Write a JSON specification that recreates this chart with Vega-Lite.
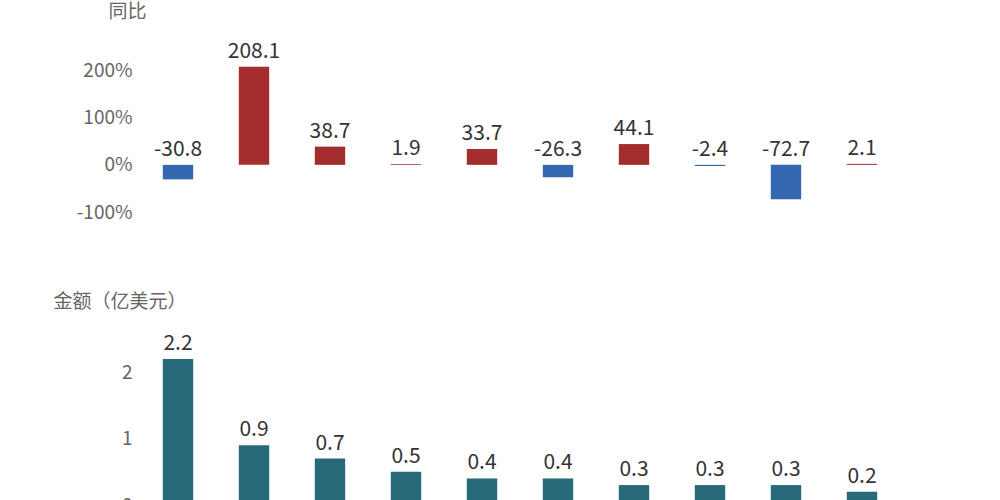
{
  "$schema": "https://vega.github.io/schema/vega-lite/v6.json",
  "padding": {"left": 53, "top": 2, "right": 5, "bottom": 0},
  "config": {
    "view": {"stroke": null},
    "font": "Noto Sans CJK SC",
    "axis": {"labelFontSize": 19, "labelColor": "#666", "titleFontSize": 19, "titleColor": "#666", "titleFontWeight": "normal", "grid": false, "labelOverlap": false}
  },
  "data": {"values": [
    {"region": "中国香港", "amt": 2.2, "yoy": -30.8},
    {"region": "越南", "amt": 0.9, "yoy": 208.1},
    {"region": "新加坡", "amt": 0.7, "yoy": 38.7},
    {"region": "缅甸", "amt": 0.5, "yoy": 1.9},
    {"region": "韩国", "amt": 0.4, "yoy": 33.7},
    {"region": "中国澳门", "amt": 0.4, "yoy": -26.3},
    {"region": "俄罗斯", "amt": 0.3, "yoy": 44.1},
    {"region": "日本", "amt": 0.3, "yoy": -2.4},
    {"region": "中国台湾省", "amt": 0.3, "yoy": -72.7},
    {"region": "美国", "amt": 0.2, "yoy": 2.1}
  ]},
  "spacing": 70,
  "vconcat": [
    {
      "width": 760, "height": 165,
      "transform": [{"calculate": "max(datum.yoy, 0)", "as": "ly"}],
      "encoding": {
        "x": {"field": "region", "type": "nominal", "sort": null, "axis": null, "scale": {"paddingInner": 0.6, "paddingOuter": 0.3}}
      },
      "layer": [
        {
          "mark": {"type": "bar"},
          "encoding": {
            "y": {"field": "yoy", "type": "quantitative", "scale": {"domain": [-100, 250], "nice": false},
              "axis": {"values": [-100, -50, 0, 50, 100, 150, 200, 250], "labelExpr": "datum.value + '%'", "domain": false, "ticks": false, "labelPadding": 8,
                "title": "同比", "titleAngle": 0, "titleAlign": "left", "titleBaseline": "middle", "titleX": -32, "titleY": -36}},
            "color": {"condition": {"test": "datum.yoy < 0", "value": "#3468B0"}, "value": "#A32E2E"}
          }
        },
        {
          "mark": {"type": "text", "fontSize": 21, "color": "#333", "dy": -15},
          "encoding": {
            "y": {"field": "ly", "type": "quantitative"},
            "text": {"field": "yoy", "type": "nominal"}
          }
        }
      ]
    },
    {
      "width": 760, "height": 166,
      "encoding": {
        "x": {"field": "region", "type": "nominal", "sort": null, "scale": {"paddingInner": 0.6, "paddingOuter": 0.3},
          "axis": {"title": null, "labelAngle": 0, "domainColor": "#888", "tickColor": "#888", "tickSize": 5, "labelLineHeight": 19, "labelPadding": 2,
            "labelExpr": "length(datum.label) > 3 ? [substring(datum.label, 0, 3), substring(datum.label, 3)] : datum.label"}}
      },
      "layer": [
        {
          "mark": {"type": "bar", "color": "#286A7A"},
          "encoding": {
            "y": {"field": "amt", "type": "quantitative", "scale": {"domain": [0, 2.5], "nice": false},
              "axis": {"values": [0, 0.5, 1, 1.5, 2, 2.5], "labelExpr": "datum.value + ''", "domain": false, "ticks": false, "labelPadding": 8,
                "title": "金额（亿美元）", "titleAngle": 0, "titleAlign": "left", "titleBaseline": "middle", "titleX": -87, "titleY": -38}}
          }
        },
        {
          "mark": {"type": "text", "fontSize": 21, "color": "#333", "dy": -15},
          "encoding": {
            "y": {"field": "amt", "type": "quantitative"},
            "text": {"field": "amt", "type": "nominal"}
          }
        }
      ]
    }
  ]
}
